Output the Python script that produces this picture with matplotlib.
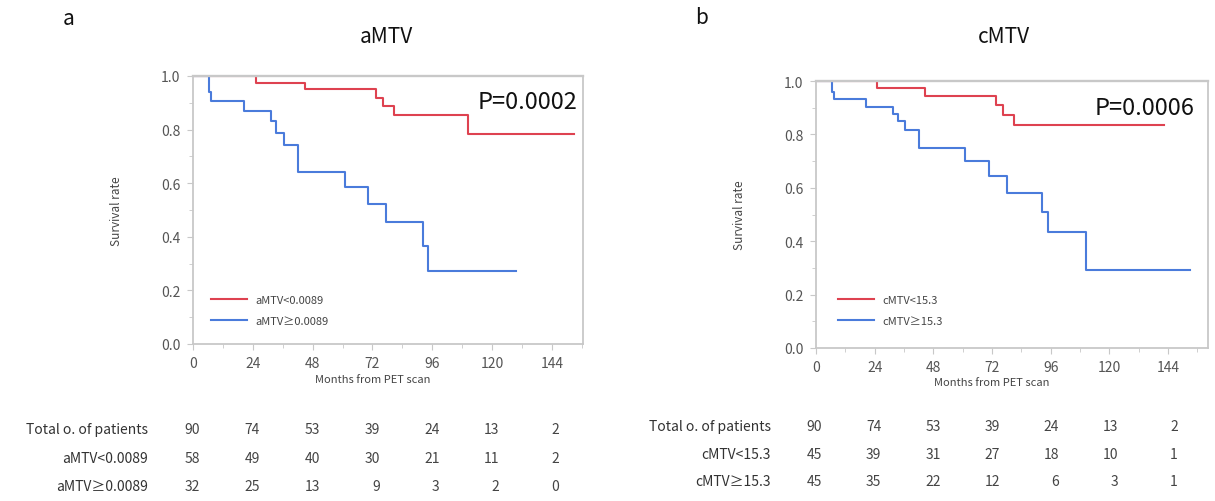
import matplotlib
matplotlib.use("Agg")
import matplotlib.pyplot as plt
from matplotlib.ticker import MultipleLocator

# ---------------- data ----------------
# Panel a (aMTV)
a_low_t = [0, 25.3, 44.8, 73.6, 76.3, 80.5, 110.2, 152.8]
a_low_s = [1.0, 0.975, 0.953, 0.919, 0.888, 0.854, 0.783, 0.783]
a_high_t = [0, 6.6, 7.3, 20.4, 31.5, 33.3, 36.6, 42.2, 60.8, 70.3, 77.6, 92.1, 94.5, 129.5]
a_high_s = [1.0, 0.94, 0.905, 0.868, 0.831, 0.788, 0.741, 0.641, 0.587, 0.521, 0.456, 0.364, 0.273, 0.273]

# Panel b (cMTV)
c_low_t = [0, 25.1, 44.4, 73.8, 76.3, 80.9, 142.4]
c_low_s = [1.0, 0.9725, 0.945, 0.91, 0.8725, 0.834, 0.834]
c_high_t = [0, 6.5, 7.4, 20.4, 31.6, 33.7, 36.5, 42.2, 61.0, 70.6, 78.1, 92.4, 94.8, 110.5, 153.1]
c_high_s = [1.0, 0.9575, 0.931, 0.904, 0.876, 0.849, 0.8175, 0.749, 0.701, 0.6425, 0.581, 0.5075, 0.436, 0.2925, 0.2925]

x_ticks = [0, 24, 48, 72, 96, 120, 144]
y_ticks = [0.0, 0.2, 0.4, 0.6, 0.8, 1.0]

a_labels = ["aMTV<0.0089", "aMTV\u22650.0089"]
c_labels = ["cMTV<15.3", "cMTV\u226515.3"]

risk_row_total = "Total o. of patients"
a_risk_total = [90, 74, 53, 39, 24, 13, 2]
a_risk_low = [58, 49, 40, 30, 21, 11, 2]
a_risk_high = [32, 25, 13, 9, 3, 2, 0]
c_risk_total = [90, 74, 53, 39, 24, 13, 2]
c_risk_low = [45, 39, 31, 27, 18, 10, 1]
c_risk_high = [45, 35, 22, 12, 6, 3, 1]

p_a = "P=0.0002"
p_c = "P=0.0006"

# ---------------- style ----------------
RED = "#de4250"
BLUE = "#4a7bdb"
SPINE = "#c8c8c8"
TICKC = "#555555"
FONT = ["Noto Sans CJK KR", "DejaVu Sans"]
plt.rcParams["font.family"] = FONT

W, H = 1215, 502
fig = plt.figure(figsize=(W / 100, H / 100), dpi=100)


def px_axes(l, t, r, b):
    return fig.add_axes([l / W, 1 - b / H, (r - l) / W, (b - t) / H])


def setup(ax, xmax, xlab_y, ylab_x):
    ax.set_xlim(0, xmax)
    ax.set_ylim(0, 1.0)
    ax.set_xticks(x_ticks)
    ax.set_yticks(y_ticks)
    ax.set_yticklabels([f"{v:.1f}" for v in y_ticks])
    ax.xaxis.set_minor_locator(MultipleLocator(12))
    ax.yaxis.set_minor_locator(MultipleLocator(0.1))
    for s in ax.spines.values():
        s.set_color(SPINE)
        s.set_linewidth(1.3)
        s.set_zorder(3)
    ax.spines["top"].set_linewidth(1.7)
    ax.tick_params(which="both", direction="out", color=SPINE, labelcolor=TICKC,
                   labelsize=10, top=False, right=False)
    ax.tick_params(which="major", length=4, pad=5)
    ax.tick_params(which="minor", length=3)
    ax.set_ylabel("Survival rate", fontsize=8.5, color="#444444")
    ax.set_xlabel("Months from PET scan", fontsize=8, color="#444444")
    ax.xaxis.set_label_coords(72 / xmax, xlab_y)
    ax.yaxis.set_label_coords(ylab_x, 0.5)


# Panel a
ax1 = px_axes(193, 77, 583, 345)
setup(ax1, 156.5, -0.112, -0.18)
ax1.step(a_low_t, a_low_s, where="post", color=RED, lw=1.5, label=a_labels[0], zorder=2)
ax1.step(a_high_t, a_high_s, where="post", color=BLUE, lw=1.5, label=a_labels[1], zorder=2)
ax1.text(0.985, 0.905, p_a, transform=ax1.transAxes, ha="right", va="center", fontsize=17, color="#111111")
ax1.legend(loc="lower left", bbox_to_anchor=(0.02, 0.03), frameon=False, fontsize=8,
           handlelength=3.3, labelspacing=1.0, handletextpad=0.7, labelcolor="#444444")

# Panel b
ax2 = px_axes(816, 82, 1208, 349)
setup(ax2, 160.3, -0.108, -0.179)
ax2.step(c_low_t, c_low_s, where="post", color=RED, lw=1.5, label=c_labels[0], zorder=2)
ax2.step(c_high_t, c_high_s, where="post", color=BLUE, lw=1.5, label=c_labels[1], zorder=2)
ax2.text(0.965, 0.9, p_c, transform=ax2.transAxes, ha="right", va="center", fontsize=17, color="#111111")
ax2.legend(loc="lower left", bbox_to_anchor=(0.03, 0.045), frameon=False, fontsize=8,
           handlelength=3.3, labelspacing=1.0, handletextpad=0.7, labelcolor="#444444")

# titles and panel letters
fig.text(386 / W, 1 - 37 / H, "aMTV", ha="center", va="center", fontsize=15, color="#111111")
fig.text(1004 / W, 1 - 37 / H, "cMTV", ha="center", va="center", fontsize=15, color="#111111")
fig.text(69 / W, 1 - 19 / H, "a", ha="center", va="center", fontsize=15, color="#111111")
fig.text(702 / W, 1 - 18 / H, "b", ha="center", va="center", fontsize=15, color="#111111")


# number-at-risk tables
def table(label_right, first_num_right, step, rows_y, labels, rows):
    for y, lab, vals in zip(rows_y, labels, rows):
        fig.text(label_right / W, 1 - y / H, lab, ha="right", va="center", fontsize=10, color="#333333")
        for i, v in enumerate(vals):
            fig.text((first_num_right + i * step) / W, 1 - y / H, str(v), ha="right", va="center",
                     fontsize=10, color="#444444")


table(148, 200, 59.9, [430, 459, 487], [risk_row_total] + a_labels, [a_risk_total, a_risk_low, a_risk_high])
table(771, 822, 59.3, [427, 455, 482], [risk_row_total] + c_labels, [c_risk_total, c_risk_low, c_risk_high])

fig.savefig("out.png", dpi=100)
